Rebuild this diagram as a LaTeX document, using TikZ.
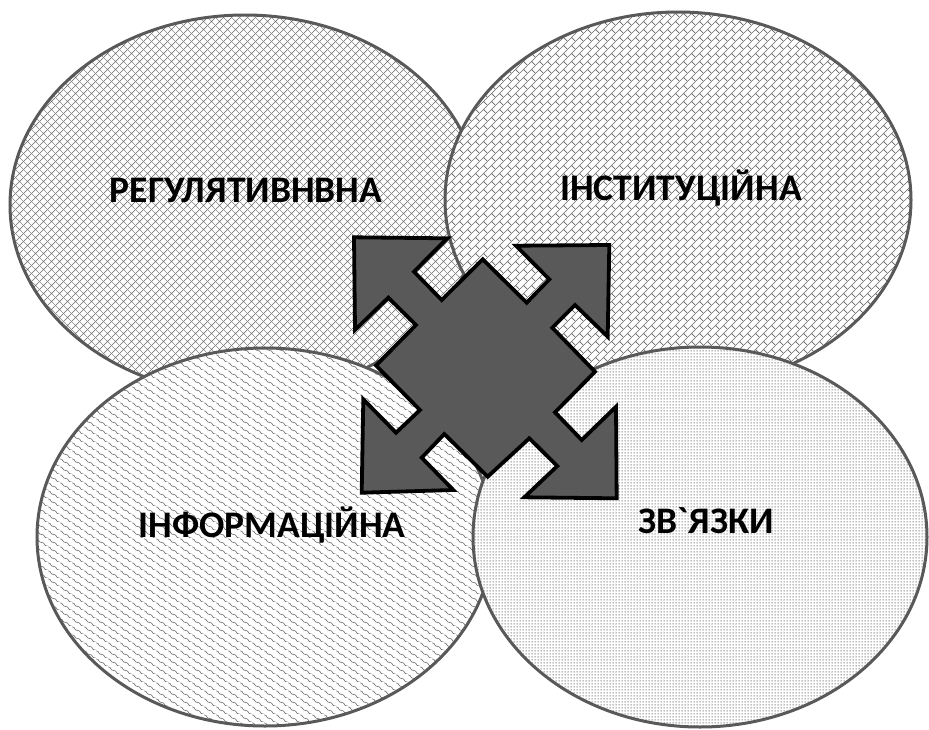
\documentclass[tikz,border=0pt]{standalone}
\usepackage{fontspec}
\newfontfamily\lblfont{Carlito}[Ligatures=TeXOff]
\usetikzlibrary{patterns.meta}

\tikzdeclarepattern{name=diagcrosspat, type=uncolored,
  bottom left={(0pt,0pt)}, top right={(8pt,8pt)}, tile size={(8pt,8pt)},
  code={\draw[line width=0.55pt] (-1pt,-1pt)--(9pt,9pt) (-1pt,9pt)--(9pt,-1pt);}}

\tikzdeclarepattern{name=diagbrickpat, type=uncolored,
  bottom left={(0pt,0pt)}, top right={(8pt,8pt)}, tile size={(8pt,8pt)},
  code={\draw[line width=0.65pt] (-1pt,-1pt)--(9pt,9pt) (4pt,4pt)--(8.7pt,-0.7pt);}}

\tikzdeclarepattern{name=shinglepat, type=uncolored,
  bottom left={(0pt,0pt)}, top right={(12pt,8pt)}, tile size={(12pt,8pt)},
  code={\draw[line width=0.65pt] (-0.5pt,8pt) -- (0pt,8pt) .. controls (4pt,8pt) and (2pt,4pt) .. (6pt,4pt)
        .. controls (10pt,4pt) and (8pt,0pt) .. (12pt,0pt) -- (12.5pt,0pt);}}

\tikzdeclarepattern{name=dotgridpat, type=uncolored,
  bottom left={(0pt,0pt)}, top right={(3pt,3pt)}, tile size={(3pt,3pt)},
  code={\fill (0.75pt,0.75pt) rectangle (2.25pt,2.25pt);}}

\definecolor{edgegray}{HTML}{595959}
\definecolor{patgray}{HTML}{666666}
\definecolor{arrowfill}{HTML}{595959}

\tikzset{
  ellbox/.style={draw=edgegray, line width=3pt, preaction={fill=white}, pattern color=patgray},
  lbl/.style={font=\lblfont\bfseries\fontsize{37.5}{44}\selectfont, text=black, anchor=base, inner sep=0pt},
  arrowshape/.style={draw=black, line width=3.8pt, fill=arrowfill, line join=miter}
}

\begin{document}
\begin{tikzpicture}[x=1pt, y=-1pt]
\useasboundingbox (0,0) rectangle (929,729);

% ellipses
\path[ellbox, pattern={diagcrosspat}] (245,205) ellipse [x radius=235pt, y radius=190pt];
\path[ellbox, pattern={diagbrickpat}] (678,200) ellipse [x radius=233pt, y radius=188pt];
\path[ellbox, pattern={shinglepat}] (265,537) ellipse [x radius=228pt, y radius=189pt];
\path[ellbox, pattern={dotgridpat}] (700,537) ellipse [x radius=227pt, y radius=190pt];

% central four-way arrow
\draw[arrowshape]
  (354,237.3) -- (447.3,238.3) -- (414,271.7) -- (441.7,300) -- (482.7,259.3)
  -- (526.7,302.7) -- (549.3,279.3) -- (516,245.7) -- (609.3,245) -- (607.7,336.7)
  -- (575,305) -- (552.3,327.7) -- (595,371.7) -- (555,412.3) -- (581.7,440)
  -- (616,406.7) -- (616.7,498.3) -- (524.3,497.3) -- (557.3,466) -- (529.3,438.3)
  -- (487.7,476.7) -- (444.3,434) -- (421.7,457.7) -- (453.3,490) -- (361.7,492.7)
  -- (363.3,399.3) -- (396,432.7) -- (420,410) -- (376,365.5) -- (416,325)
  -- (388.3,297.7) -- (355,330) -- cycle;

% labels
\node[lbl] (reg) at (246,202) {РЕГУЛЯТИВНВНА};
\node[lbl] (inst) at (681,200) {ІНСТИТУЦІЙНА};
\node[lbl] (inf) at (272,537) {ІНФОРМАЦІЙНА};
\node[lbl] (zv) at (706,533) {ЗВ`ЯЗКИ};
\end{tikzpicture}
\end{document}
